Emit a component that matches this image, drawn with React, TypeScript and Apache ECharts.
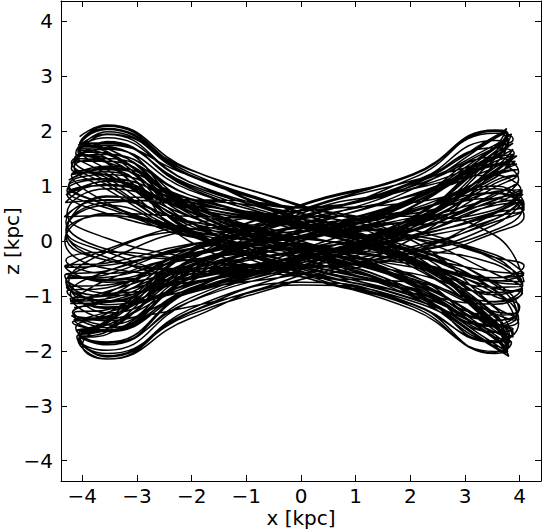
import React, { useEffect, useRef } from "react";
import * as echarts from "echarts";

const xTicks = [-4, -3, -2, -1, 0, 1, 2, 3, 4];
const zTicks = [-4, -3, -2, -1, 0, 1, 2, 3, 4];
const xRange = [-4.39, 4.39];
const zRange = [-4.37, 4.37];

// Orbit trajectory [x, z] in kpc, traced along the path
const orbitStart = [[-4.05, 1.9]];
const orbitPart1 = [
  [-3.55, 2.11], [-2.05, 1.31], [0, 0.62], [2.05, -0.25], [3.55, -1.5], [3.8, -1.95],
  [3.55, -1.91], [2.05, -1.02], [0, -0.3], [-2.05, 0.5], [-3.55, 1.61], [-4.08, 1.75],
  [-3.55, 1.63], [-2.05, 0.7], [0, 0], [2.05, -0.7], [3.55, -1.63], [3.82, -1.85],
  [3.55, -1.33], [2.05, -0.41], [0, 0.25], [-2.05, 0.84], [-3.55, 1.58], [-4.2, 1.43],
  [-3.55, 1.02], [-2.05, 0.17], [0, -0.42], [2.05, -0.9], [3.55, -1.44], [3.95, -1.33],
  [3.55, -0.8], [2.05, -0.13], [0, 0.33], [-2.05, 0.7], [-3.55, 1.13], [-4.28, 0.92],
  [-3.55, 0.6], [-2.05, 0.19], [0, -0.11], [2.05, -0.38], [3.55, -0.72], [4.08, -0.74],
  [3.55, 0.1], [2.05, 0.45], [0, 0.45], [-2.05, 0.2], [-3.55, -0.35], [-4.3, -0.75],
  [-3.55, -1.1], [-2.05, -0.9], [0, -0.35], [2.05, 0.3], [3.55, 0.9], [4.02, 0.95],
  [3.55, 1.2], [2.05, 0.95], [0, 0.45], [-2.05, -0.2], [-3.55, -0.7], [-4.3, -0.6],
  [-3.55, -0.72], [-2.05, -0.45], [0, -0.21], [2.05, 0.08], [3.55, 0.51], [4.08, 0.67],
  [3.55, 1.0], [2.05, 0.54], [0, 0.16], [-2.05, -0.26], [-3.55, -0.85], [-4.28, -0.92],
  [-3.55, -1.23], [-2.05, -0.53], [0, 0], [2.05, 0.53], [3.55, 1.23], [3.95, 1.4],
  [3.55, 1.37], [2.05, 0.43], [0, -0.26], [-2.05, -0.87], [-3.55, -1.62], [-4.18, -1.48],
];
const orbitPart2 = [
  [-3.55, -1.39], [-2.05, -0.23], [0, 0.57], [2.05, 1.22], [3.55, 1.96], [3.8, 1.81],
  [3.55, 1.5], [2.05, 0.25], [0, -0.62], [-2.05, -1.31], [-3.55, -2.11], [-4.05, -1.72],
  [-3.55, -1.61], [-2.05, -0.5], [0, 0.3], [2.05, 1.02], [3.55, 1.91], [3.78, 1.98],
  [3.55, 1.63], [2.05, 0.7], [0, 0], [-2.05, -0.7], [-3.55, -1.63], [-4.1, -1.63],
  [-3.55, -1.53], [-2.05, -0.82], [0, -0.24], [2.05, 0.4], [3.55, 1.29], [3.9, 1.58],
  [3.55, 1.34], [2.05, 0.83], [0, 0.39], [-2.05, -0.16], [-3.55, -0.95], [-4.22, -1.09],
  [-3.55, -0.98], [-2.05, -0.61], [0, -0.29], [2.05, 0.11], [3.55, 0.69], [4.05, 0.9],
  [3.55, 0.53], [2.05, 0.28], [0, 0.08], [-2.05, -0.14], [-3.55, -0.44], [-4.32, -0.48],
  [-3.55, -0.15], [-2.05, 0.3], [0, 0.55], [2.05, 0.7], [3.55, 0.95], [4.05, 0.6],
  [3.55, 0.2], [2.05, -0.2], [0, -0.5], [-2.05, -0.6], [-3.55, -0.3], [-4.3, 0.15],
  [-3.55, 0.47], [-2.05, 0.08], [0, -0.2], [2.05, -0.42], [3.55, -0.67], [4.08, -0.62],
  [3.55, -0.73], [2.05, -0.12], [0, 0.3], [-2.05, 0.64], [-3.55, 1.03], [-4.3, 0.84],
  [-3.55, 1.09], [-2.05, 0.34], [0, -0.2], [2.05, -0.69], [3.55, -1.29], [3.95, -1.34],
  [3.55, -1.45], [2.05, -0.63], [0, 0], [-2.05, 0.63], [-3.55, 1.45], [-4.15, 1.45],
];
const orbitPart3 = [
  [-3.55, 1.81], [-2.05, 0.97], [0, 0.29], [2.05, -0.48], [3.55, -1.53], [3.8, -1.88],
  [3.55, -2.01], [2.05, -1.25], [0, -0.59], [-2.05, 0.23], [-3.55, 1.42], [-4.08, 1.63],
  [-3.55, 1.88], [-2.05, 1.08], [0, 0.42], [2.05, -0.36], [3.55, -1.46], [3.8, -1.84],
  [3.55, -1.56], [2.05, -0.77], [0, -0.14], [-2.05, 0.53], [-3.55, 1.43], [-4.12, 1.5],
  [-3.55, 1.22], [-2.05, 0.45], [0, -0.12], [2.05, -0.65], [3.55, -1.33], [3.93, -1.45],
  [3.55, -0.89], [2.05, -0.22], [0, 0.25], [-2.05, 0.66], [-3.55, 1.14], [-4.26, 0.99],
  [-3.55, 0.65], [-2.05, 0.16], [0, -0.19], [2.05, -0.48], [3.55, -0.84], [4.06, -0.82],
  [3.55, -0.42], [2.05, -0.16], [0, 0.04], [-2.05, 0.23], [-3.55, 0.46], [-4.33, 0.44],
  [-3.55, 0.8], [-2.05, 0.75], [0, 0.5], [2.05, 0.05], [3.55, -0.6], [4.05, -0.9],
  [3.55, -1.15], [2.05, -0.95], [0, -0.6], [-2.05, -0.35], [-3.55, -0.2], [-4.3, -0.35],
  [-3.55, -0.59], [-2.05, -0.34], [0, -0.13], [2.05, 0.11], [3.55, 0.46], [4.08, 0.58],
  [3.55, 0.87], [2.05, 0.43], [0, 0.08], [-2.05, -0.29], [-3.55, -0.8], [-4.29, -0.84],
  [-3.55, -1.09], [-2.05, -0.4], [0, 0.1], [2.05, 0.59], [3.55, 1.2], [3.97, 1.3],
  [3.55, 1.23], [2.05, 0.3], [0, -0.35], [-2.05, -0.91], [-3.55, -1.58], [-4.2, -1.36],
];
const orbitPart4 = [
  [-3.55, -1.42], [-2.05, -0.35], [0, 0.41], [2.05, 1.05], [3.55, 1.83], [3.8, 1.79],
  [3.55, 1.68], [2.05, 0.62], [0, -0.16], [-2.05, -0.9], [-3.55, -1.84], [-4.05, -1.76],
  [-3.55, -1.89], [-2.05, -0.92], [0, -0.16], [2.05, 0.64], [3.55, 1.72], [3.76, 2.05],
  [3.55, 1.88], [2.05, 1.08], [0, 0.42], [-2.05, -0.36], [-3.55, -1.46], [-4.1, -1.62],
  [-3.55, -1.63], [-2.05, -0.94], [0, -0.36], [2.05, 0.31], [3.55, 1.27], [3.9, 1.6],
  [3.55, 1.15], [2.05, 0.56], [0, 0.1], [-2.05, -0.39], [-3.55, -1.05], [-4.22, -1.1],
  [-3.55, -0.71], [-2.05, -0.26], [0, 0.07], [2.05, 0.38], [3.55, 0.78], [4.06, 0.85],
  [3.55, 0.5], [2.05, 0.1], [0, -0.3], [-2.05, -0.7], [-3.55, -1.0], [-4.25, -0.75],
  [-3.55, -0.2], [-2.05, 0.2], [0, 0.3], [2.05, 0.1], [3.55, -0.3], [4.08, -0.45],
  [3.55, -0.67], [2.05, -0.25], [0, 0.06], [-2.05, 0.36], [-3.55, 0.74], [-4.31, 0.7],
  [-3.55, 1.1], [-2.05, 0.54], [0, 0.1], [2.05, -0.37], [3.55, -1.01], [4.0, -1.2],
  [3.55, -1.53], [2.05, -0.88], [0, -0.34], [-2.05, 0.29], [-3.55, 1.19], [-4.2, 1.32],
  [-3.55, 1.78], [-2.05, 1.03], [0, 0.4], [2.05, -0.34], [3.55, -1.39], [3.82, -1.75],
  [3.55, -1.84], [2.05, -0.9], [0, -0.16], [-2.05, 0.62], [-3.55, 1.68], [-4.05, 1.76],
];

// Further half-swings, alternating rightward / leftward (first one rightward).
// Each row: z at the five crossing abscissae (in travel order), then turning point x, z.
const knotX = [-3.55, -2.05, 0, 2.05, 3.55];
const swingRowsA = [
  [2.09, 1.25, 0.52, -0.33, -1.57, 3.78, -2.02],
  [-1.88, -0.95, -0.2, 0.59, 1.68, -4.06, 1.76],
  [1.63, 0.66, -0.08, -0.79, -1.71, 3.78, -1.9],
  [-1.36, -0.38, 0.31, 0.93, 1.67, -4.15, 1.48],
  [1.08, 0.15, -0.48, -0.99, -1.56, 3.98, -1.43],
  [-0.91, -0.19, 0.3, 0.72, 1.21, -4.25, 1.02],
  [0.66, 0.23, -0.09, -0.38, -0.75, 4.06, -0.79],
  [-0.3, 0.05, 0.4, 0.65, 0.75, -4.3, 0.35],
  [-0.15, -0.35, -0.45, -0.3, 0.15, 4.08, 0.45],
  [0.78, 0.5, 0.24, -0.08, -0.54, -4.32, -0.63],
  [-1.16, -0.69, -0.29, 0.18, 0.87, 3.98, 1.12],
  [1.4, 0.71, 0.15, -0.44, -1.25, -4.15, -1.31],
  [-1.53, -0.61, 0.07, 0.74, 1.6, 3.88, 1.78],
  [1.54, 0.43, -0.35, -1.05, -1.89, -4.06, -1.68],
  [-1.48, -0.21, 0.66, 1.22, 2.02, 3.78, 1.95],
  [1.57, 0.33, -0.52, -1.25, -2.09, -4.06, -1.78],
  [-1.65, -0.57, 0.22, 0.95, 1.87, 3.78, 1.98],
  [1.68, 0.77, 0.06, -0.66, -1.63, -4.06, -1.65],
  [-1.65, -0.92, -0.31, 0.37, 1.34, 3.88, 1.67],
  [1.51, 0.96, 0.46, -0.15, -1.04, -4.15, -1.21],
];
const swingRowsB = [
  [-1.11, -0.66, -0.28, 0.18, 0.83, 3.98, 1.07],
  [0.74, 0.38, 0.08, -0.23, -0.66, -4.3, -0.7],
  [-0.95, -0.75, -0.4, 0.1, 0.65, 4.05, 0.7],
  [0.3, -0.2, -0.5, -0.55, -0.2, -4.3, 0.2],
  [0.65, 0.09, -0.29, -0.59, -0.94, 4.06, -0.86],
  [-0.98, -0.21, 0.33, 0.78, 1.31, -4.25, 1.11],
  [1.34, 0.46, -0.18, -0.77, -1.51, 3.88, -1.6],
  [-1.66, -0.76, -0.06, 0.65, 1.6, -4.06, 1.63],
  [1.94, 1.08, 0.36, -0.44, -1.58, 3.78, -1.96],
  [-2.04, -1.2, -0.64, 0.2, 1.44, -4.06, 1.67],
  [2.03, 1.21, 0.51, -0.32, -1.53, 3.78, -1.96],
  [-1.77, -0.89, -0.19, 0.55, 1.58, -4.06, 1.66],
  [1.51, 0.6, -0.07, -0.73, -1.58, 3.88, -1.75],
  [-1.22, -0.34, 0.28, 0.84, 1.5, -4.15, 1.34],
  [0.94, 0.13, -0.42, -0.86, -1.35, 3.98, -1.24],
  [-0.76, -0.16, 0.25, 0.6, 1.01, -4.28, 0.85],
  [0.5, 0.17, -0.07, -0.29, -0.56, 4.08, -0.59],
  [-0.25, 0.1, 0.35, 0.45, 0.5, -4.32, 0.0],
  [-0.5, -0.6, -0.45, -0.1, 0.35, 4.08, 0.62],
  [0.88, 0.56, 0.27, -0.09, -0.61, -4.3, -0.71],
];
const swingRowsC = [
  [-1.31, -0.78, -0.33, 0.21, 0.98, 3.98, 1.26],
  [1.53, 0.78, 0.17, -0.48, -1.37, -4.15, -1.44],
  [-1.63, -0.66, 0.08, 0.79, 1.71, 3.78, 1.9],
  [1.62, 0.45, -0.37, -1.11, -1.99, -4.06, -1.77],
  [-1.44, -0.2, 0.64, 1.2, 2.0, 3.78, 1.9],
  [1.4, 0.3, -0.46, -1.11, -1.86, -4.12, -1.58],
  [-1.32, -0.46, 0.18, 0.76, 1.5, 3.88, 1.58],
  [1.16, 0.53, 0.04, -0.46, -1.12, -4.22, -1.14],
  [-0.92, -0.51, -0.17, 0.21, 0.75, 4.05, 0.93],
  [0.57, 0.36, 0.18, -0.06, -0.4, -4.32, -0.46],
  [-0.75, -0.55, -0.15, 0.3, 0.7, 4.06, 0.75],
  [0.4, 0.05, -0.3, -0.5, -0.35, -4.3, 0.1],
  [0.82, 0.33, -0.04, -0.39, -0.86, 4.05, -0.95],
  [-1.11, -0.31, 0.25, 0.76, 1.36, -4.2, 1.21],
  [1.26, 0.18, -0.56, -1.16, -1.82, 3.88, -1.66],
  [-1.49, -0.32, 0.5, 1.19, 1.99, -4.06, 1.69],
  [1.7, 0.59, -0.23, -0.98, -1.93, 3.76, -2.04],
  [-1.79, -0.82, -0.06, 0.7, 1.73, -4.05, 1.76],
  [1.79, 1.0, 0.33, -0.41, -1.46, 3.8, -1.81],
  [-1.66, -1.06, -0.51, 0.16, 1.15, -4.15, 1.34],
];
const swingRowsD = [
  [1.75, 1.2, 0.62, 1.05, 1.75, 3.85, 1.95],
  [1.55, 1.1, 0.55, -0.35, -1.6, -4.1, -1.75],
  [-2.05, -1.35, -0.7, 0.05, 1.25, 3.95, 1.55],
  [1.45, 0.7, 0.0, -0.75, -1.7, -4.08, -1.8],
  [-2.15, -1.42, -0.8, -1.1, -1.95, 3.8, -2.1],
  [-1.75, -0.95, -0.45, 0.35, 1.5, -4.12, 1.6],
  [1.95, 1.3, 0.65, 0.0, -1.2, 3.98, -1.5],
  [-1.85, -1.15, -0.65, 0.0, 1.3, -4.2, 1.2],
  [0.7, 0.1, -0.55, -1.05, -1.75, 3.85, -1.85],
  [-2.05, -1.15, -0.75, -1.3, -2.15, -4.0, -1.9],
  [-1.5, -0.55, 0.5, 1.0, 1.7, 3.88, 1.85],
  [2.0, 1.15, 0.6, 1.25, 2.05, -4.05, 1.7],
  [1.3, 0.35, -0.45, -1.0, -1.55, 3.95, -1.35],
  [-0.95, -0.35, 0.2, 0.6, 0.95, -4.28, 0.5],
  [0.05, -0.3, -0.65, -0.75, -1.1, 4.05, -0.8],
  [-0.35, 0.2, 0.6, 0.75, 0.7, -4.3, 0.2],
  [-0.35, -0.5, -0.35, 0.25, 1.1, 3.98, 1.2],
  [1.05, 0.25, -0.45, -0.95, -1.45, -4.18, -1.3],
  [-1.05, -0.45, 0.15, 0.7, 1.4, 3.92, 1.45],
  [1.2, 0.35, -0.35, -0.8, -1.2, -4.22, -0.95],
  [-0.55, -0.15, 0.3, 0.85, 1.45, 3.9, 1.6],
  [1.7, 1.05, 0.45, -0.2, -1.0, -4.22, -1.05],
  [-1.4, -1.2, -0.7, -0.2, 0.5, 4.05, 0.75],
  [0.4, -0.15, -0.6, -0.9, -1.3, -4.15, -1.45],
];

const FONT = "DejaVu Sans";
const fmt = (v: number) => (v < 0 ? "\u2212" + Math.abs(v) : String(v));

function buildOrbit() {
  const pts: number[][] = [...orbitStart, ...orbitPart1, ...orbitPart2, ...orbitPart3, ...orbitPart4];
  const rows = [...swingRowsA, ...swingRowsB, ...swingRowsC, ...swingRowsD];
  rows.forEach((r, i) => {
    const rightward = i % 2 === 0;
    for (let k = 0; k < 5; k++) {
      const x = rightward ? knotX[k] : knotX[4 - k];
      pts.push([x, r[k]]);
    }
    pts.push([r[5], r[6]]);
  });
  return pts;
}

export default function App() {
  const ref = useRef<HTMLDivElement>(null);
  useEffect(() => {
    document.body.style.margin = "0";
    if (!ref.current) return;
    const chart = echarts.init(ref.current, null, { renderer: "svg" });
    const orbit = buildOrbit();
    const axisLine = { show: true, onZero: false, lineStyle: { color: "#000", width: 1 } };
    const tickStyle = { color: "#000", width: 1 };
    const labelStyle = { fontFamily: FONT, fontSize: 20, lineHeight: 18, color: "#000" };
    const nameStyle = { fontFamily: FONT, fontSize: 20, lineHeight: 18, color: "#000" };
    chart.setOption({
      animation: false,
      backgroundColor: "#fff",
      grid: { left: 61, top: 1, width: 480, height: 480, containLabel: false, outerBoundsMode: "none" },
      xAxis: [
        {
          type: "value", min: xRange[0], max: xRange[1], position: "bottom",
          name: "x [kpc]", nameLocation: "middle", nameGap: 28, nameMoveOverlap: false,
          nameTextStyle: nameStyle,
          axisLine,
          axisTick: { show: true, inside: true, length: 6, customValues: xTicks, lineStyle: tickStyle },
          axisLabel: { show: true, customValues: xTicks, formatter: fmt, margin: 6, ...labelStyle },
          splitLine: { show: false },
        },
        {
          type: "value", min: xRange[0], max: xRange[1], position: "top",
          axisLine,
          axisTick: { show: true, inside: true, length: 6, customValues: xTicks, lineStyle: tickStyle },
          axisLabel: { show: false },
          splitLine: { show: false },
        },
      ],
      yAxis: [
        {
          type: "value", min: zRange[0], max: zRange[1], position: "left",
          name: "z [kpc]", nameLocation: "middle", nameGap: 40, nameMoveOverlap: false,
          nameTextStyle: nameStyle,
          axisLine,
          axisTick: { show: true, inside: true, length: 6, customValues: zTicks, lineStyle: tickStyle },
          axisLabel: { show: true, customValues: zTicks, formatter: fmt, margin: 8, ...labelStyle },
          splitLine: { show: false },
        },
        {
          type: "value", min: zRange[0], max: zRange[1], position: "right",
          axisLine,
          axisTick: { show: true, inside: true, length: 6, customValues: zTicks, lineStyle: tickStyle },
          axisLabel: { show: false },
          splitLine: { show: false },
        },
      ],
      series: [
        {
          type: "line",
          xAxisIndex: 0,
          yAxisIndex: 0,
          data: orbit,
          showSymbol: false,
          symbol: "none",
          smooth: 0.5,
          silent: true,
          lineStyle: { color: "#000", width: 1.5 },
        },
      ],
    });
    return () => chart.dispose();
  }, []);
  return <div ref={ref} style={{ width: 543, height: 529 }} />;
}
